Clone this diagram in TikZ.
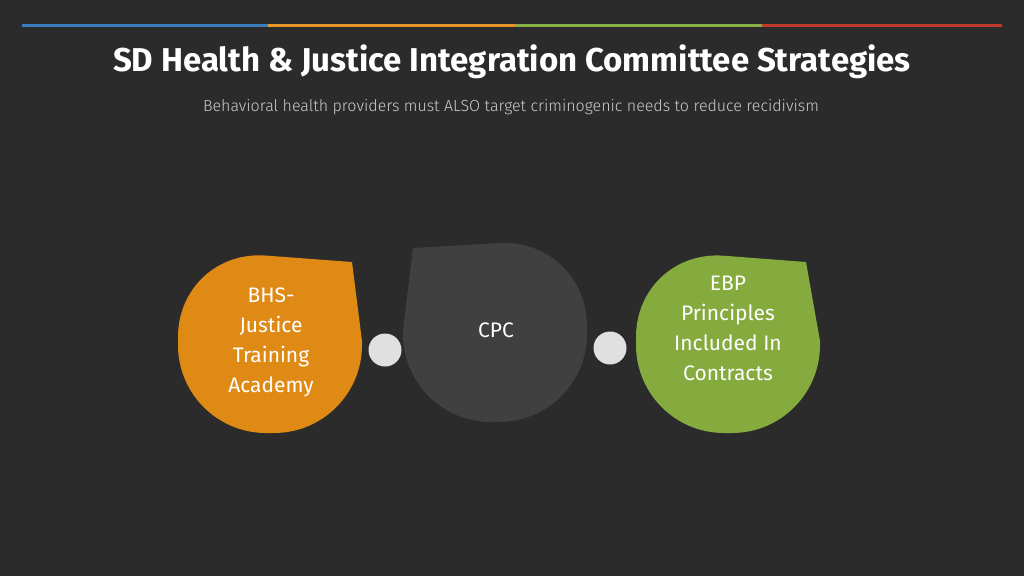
\documentclass[tikz,border=0pt]{standalone}
\usepackage{fontspec}
\setmainfont{Fira Sans}
\newfontfamily\lightfont{Fira Sans Light}
\definecolor{bgdark}{HTML}{2B2B2B}
\definecolor{barblue}{HTML}{3A7EBF}
\definecolor{barorange}{HTML}{E8952A}
\definecolor{bargreen}{HTML}{86B043}
\definecolor{barred}{HTML}{C0392B}
\definecolor{leaforange}{HTML}{E08A16}
\definecolor{leafgray}{HTML}{404040}
\definecolor{leafgreen}{HTML}{85AB3E}
\definecolor{dotgray}{HTML}{E0E0E0}
\tikzset{
  leaftext/.style = {text=white, align=center, font=\fontsize{21}{30}\selectfont},
  dot/.style = {circle, fill=dotgray, minimum size=33pt, inner sep=0pt}
}
\begin{document}
\begin{tikzpicture}[x=1pt, y=-1pt]
  \fill[bgdark] (0,0) rectangle (1024,576);
  \useasboundingbox (0,0) rectangle (1024,576);

  % top bar
  \fill[barblue] (22,23.5) rectangle (268,26.5);
  \fill[barorange] (268,23.5) rectangle (515,26.5);
  \fill[bargreen] (515,23.5) rectangle (762,26.5);
  \fill[barred] (762,23.5) rectangle (1002,26.5);

  \node[text=white, font=\bfseries\fontsize{33}{38}\selectfont] (title) at (512,62)
    {SD Health \& Justice Integration Committee Strategies};
  \node[text=white!80!black, font=\lightfont\fontsize{16}{20}\selectfont] (subtitle) at (511,107)
    {Behavioral health providers must ALSO target criminogenic needs to reduce recidivism};

  % leaves
  \fill[leaforange] (352,262) [rounded corners=88pt] -- (178,249) -- (178,433) -- (362,433)
    [sharp corners] -- (362,341) -- cycle;
  \fill[leafgray] (413,248) [rounded corners=88pt] -- (587,238) -- (587,422) -- (403,422)
    [sharp corners] -- (403,330) -- cycle;
  \fill[leafgreen] (806,262) [rounded corners=88pt] -- (636,249) -- (636,433) -- (820,433)
    [sharp corners] -- (820,341) -- cycle;

  \node[leaftext] (academy) at (271,342) {BHS-\\Justice\\Training\\Academy};
  \node[leaftext] (cpc) at (496,330) {CPC};
  \node[leaftext] (ebp) at (728,328) {EBP\\Principles\\Included In\\Contracts};

  \node[dot] (dotleft) at (385,350) {};
  \node[dot] (dotright) at (610,348) {};
\end{tikzpicture}
\end{document}
